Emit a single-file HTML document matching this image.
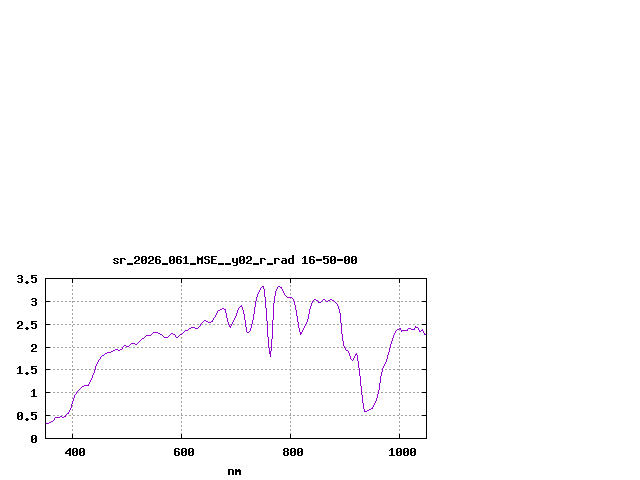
<!DOCTYPE html>
<html><head><meta charset="utf-8"><title>plot</title>
<style>
html,body{margin:0;padding:0;background:#fff;font-family:"Liberation Sans",sans-serif;}
svg{display:block}
</style></head>
<body>
<svg width="640" height="480" viewBox="0 0 640 480" shape-rendering="crispEdges">
<rect width="640" height="480" fill="#ffffff"/>
<path fill="#a0a0a0" d="M72 285h1v1h-1zM181 285h1v1h-1zM290 285h1v1h-1zM399 285h1v1h-1zM72 286h1v1h-1zM181 286h1v1h-1zM290 286h1v1h-1zM399 286h1v1h-1zM72 289h1v1h-1zM181 289h1v1h-1zM290 289h1v1h-1zM399 289h1v1h-1zM72 290h1v1h-1zM181 290h1v1h-1zM290 290h1v1h-1zM399 290h1v1h-1zM72 293h1v1h-1zM181 293h1v1h-1zM290 293h1v1h-1zM399 293h1v1h-1zM72 294h1v1h-1zM181 294h1v1h-1zM290 294h1v1h-1zM399 294h1v1h-1zM72 297h1v1h-1zM181 297h1v1h-1zM399 297h1v1h-1zM72 298h1v1h-1zM181 298h1v1h-1zM290 298h1v1h-1zM399 298h1v1h-1zM50 301h1v1h-1zM53 301h2v1h-2zM57 301h2v1h-2zM61 301h2v1h-2zM65 301h2v1h-2zM69 301h2v1h-2zM72 301h3v1h-3zM77 301h2v1h-2zM81 301h2v1h-2zM85 301h2v1h-2zM89 301h2v1h-2zM93 301h2v1h-2zM97 301h2v1h-2zM101 301h2v1h-2zM105 301h2v1h-2zM109 301h2v1h-2zM113 301h2v1h-2zM117 301h2v1h-2zM121 301h2v1h-2zM125 301h2v1h-2zM129 301h2v1h-2zM133 301h2v1h-2zM137 301h2v1h-2zM141 301h2v1h-2zM145 301h2v1h-2zM149 301h2v1h-2zM153 301h2v1h-2zM157 301h2v1h-2zM161 301h2v1h-2zM165 301h2v1h-2zM169 301h2v1h-2zM173 301h2v1h-2zM177 301h2v1h-2zM181 301h2v1h-2zM185 301h2v1h-2zM189 301h2v1h-2zM193 301h2v1h-2zM197 301h2v1h-2zM201 301h2v1h-2zM205 301h2v1h-2zM209 301h2v1h-2zM213 301h2v1h-2zM217 301h2v1h-2zM221 301h2v1h-2zM225 301h2v1h-2zM229 301h2v1h-2zM233 301h2v1h-2zM237 301h2v1h-2zM241 301h2v1h-2zM245 301h2v1h-2zM249 301h2v1h-2zM253 301h2v1h-2zM257 301h2v1h-2zM261 301h2v1h-2zM266 301h1v1h-1zM269 301h2v1h-2zM273 301h1v1h-1zM277 301h2v1h-2zM281 301h2v1h-2zM285 301h2v1h-2zM289 301h2v1h-2zM293 301h1v1h-1zM297 301h2v1h-2zM301 301h2v1h-2zM305 301h2v1h-2zM309 301h2v1h-2zM313 301h2v1h-2zM317 301h1v1h-1zM322 301h1v1h-1zM325 301h1v1h-1zM329 301h2v1h-2zM333 301h1v1h-1zM337 301h2v1h-2zM341 301h2v1h-2zM345 301h2v1h-2zM349 301h2v1h-2zM353 301h2v1h-2zM357 301h2v1h-2zM361 301h2v1h-2zM365 301h2v1h-2zM369 301h2v1h-2zM373 301h2v1h-2zM377 301h2v1h-2zM381 301h2v1h-2zM385 301h2v1h-2zM389 301h2v1h-2zM393 301h2v1h-2zM397 301h3v1h-3zM401 301h2v1h-2zM405 301h2v1h-2zM409 301h2v1h-2zM413 301h2v1h-2zM417 301h2v1h-2zM421 301h1v1h-1zM72 302h1v1h-1zM181 302h1v1h-1zM290 302h1v1h-1zM399 302h1v1h-1zM72 305h1v1h-1zM181 305h1v1h-1zM290 305h1v1h-1zM399 305h1v1h-1zM72 306h1v1h-1zM181 306h1v1h-1zM290 306h1v1h-1zM399 306h1v1h-1zM72 309h1v1h-1zM181 309h1v1h-1zM290 309h1v1h-1zM399 309h1v1h-1zM72 310h1v1h-1zM181 310h1v1h-1zM290 310h1v1h-1zM399 310h1v1h-1zM72 313h1v1h-1zM181 313h1v1h-1zM290 313h1v1h-1zM399 313h1v1h-1zM72 314h1v1h-1zM181 314h1v1h-1zM290 314h1v1h-1zM399 314h1v1h-1zM72 317h1v1h-1zM181 317h1v1h-1zM290 317h1v1h-1zM399 317h1v1h-1zM72 318h1v1h-1zM181 318h1v1h-1zM290 318h1v1h-1zM399 318h1v1h-1zM72 321h1v1h-1zM181 321h1v1h-1zM290 321h1v1h-1zM399 321h1v1h-1zM72 322h1v1h-1zM181 322h1v1h-1zM290 322h1v1h-1zM399 322h1v1h-1zM50 324h1v1h-1zM53 324h2v1h-2zM57 324h2v1h-2zM61 324h2v1h-2zM65 324h2v1h-2zM69 324h2v1h-2zM73 324h2v1h-2zM77 324h2v1h-2zM81 324h2v1h-2zM85 324h2v1h-2zM89 324h2v1h-2zM93 324h2v1h-2zM97 324h2v1h-2zM101 324h2v1h-2zM105 324h2v1h-2zM109 324h2v1h-2zM113 324h2v1h-2zM117 324h2v1h-2zM121 324h2v1h-2zM125 324h2v1h-2zM129 324h2v1h-2zM133 324h2v1h-2zM137 324h2v1h-2zM141 324h2v1h-2zM145 324h2v1h-2zM149 324h2v1h-2zM153 324h2v1h-2zM157 324h2v1h-2zM161 324h2v1h-2zM165 324h2v1h-2zM169 324h2v1h-2zM173 324h2v1h-2zM177 324h2v1h-2zM181 324h2v1h-2zM185 324h2v1h-2zM189 324h2v1h-2zM193 324h2v1h-2zM197 324h2v1h-2zM201 324h2v1h-2zM205 324h2v1h-2zM209 324h2v1h-2zM213 324h2v1h-2zM217 324h2v1h-2zM221 324h2v1h-2zM225 324h2v1h-2zM229 324h2v1h-2zM233 324h2v1h-2zM237 324h2v1h-2zM241 324h2v1h-2zM246 324h1v1h-1zM249 324h2v1h-2zM253 324h2v1h-2zM257 324h2v1h-2zM261 324h2v1h-2zM265 324h2v1h-2zM269 324h2v1h-2zM273 324h2v1h-2zM277 324h2v1h-2zM281 324h2v1h-2zM285 324h2v1h-2zM289 324h2v1h-2zM293 324h2v1h-2zM297 324h1v1h-1zM301 324h2v1h-2zM306 324h1v1h-1zM309 324h2v1h-2zM313 324h2v1h-2zM317 324h2v1h-2zM321 324h2v1h-2zM325 324h2v1h-2zM329 324h2v1h-2zM333 324h2v1h-2zM337 324h2v1h-2zM342 324h1v1h-1zM345 324h2v1h-2zM349 324h2v1h-2zM353 324h2v1h-2zM357 324h2v1h-2zM361 324h2v1h-2zM365 324h2v1h-2zM369 324h2v1h-2zM373 324h2v1h-2zM377 324h2v1h-2zM381 324h2v1h-2zM385 324h2v1h-2zM389 324h2v1h-2zM393 324h2v1h-2zM397 324h2v1h-2zM401 324h2v1h-2zM405 324h2v1h-2zM409 324h2v1h-2zM413 324h2v1h-2zM417 324h2v1h-2zM421 324h1v1h-1zM72 325h1v1h-1zM181 325h1v1h-1zM290 325h1v1h-1zM399 325h1v1h-1zM72 326h1v1h-1zM181 326h1v1h-1zM290 326h1v1h-1zM399 326h1v1h-1zM72 329h1v1h-1zM181 329h1v1h-1zM290 329h1v1h-1zM399 329h1v1h-1zM72 330h1v1h-1zM181 330h1v1h-1zM290 330h1v1h-1zM399 330h1v1h-1zM72 333h1v1h-1zM181 333h1v1h-1zM290 333h1v1h-1zM399 333h1v1h-1zM72 334h1v1h-1zM290 334h1v1h-1zM399 334h1v1h-1zM72 337h1v1h-1zM181 337h1v1h-1zM290 337h1v1h-1zM399 337h1v1h-1zM72 338h1v1h-1zM181 338h1v1h-1zM290 338h1v1h-1zM399 338h1v1h-1zM72 341h1v1h-1zM181 341h1v1h-1zM290 341h1v1h-1zM399 341h1v1h-1zM72 342h1v1h-1zM181 342h1v1h-1zM290 342h1v1h-1zM399 342h1v1h-1zM72 345h1v1h-1zM181 345h1v1h-1zM290 345h1v1h-1zM399 345h1v1h-1zM72 346h1v1h-1zM181 346h1v1h-1zM290 346h1v1h-1zM399 346h1v1h-1zM50 347h1v1h-1zM53 347h2v1h-2zM57 347h2v1h-2zM61 347h2v1h-2zM65 347h2v1h-2zM69 347h2v1h-2zM73 347h2v1h-2zM77 347h2v1h-2zM81 347h2v1h-2zM85 347h2v1h-2zM89 347h2v1h-2zM93 347h2v1h-2zM97 347h2v1h-2zM101 347h2v1h-2zM105 347h2v1h-2zM109 347h2v1h-2zM113 347h2v1h-2zM117 347h2v1h-2zM121 347h1v1h-1zM125 347h2v1h-2zM129 347h2v1h-2zM133 347h2v1h-2zM137 347h2v1h-2zM141 347h2v1h-2zM145 347h2v1h-2zM149 347h2v1h-2zM153 347h2v1h-2zM157 347h2v1h-2zM161 347h2v1h-2zM165 347h2v1h-2zM169 347h2v1h-2zM173 347h2v1h-2zM177 347h2v1h-2zM181 347h2v1h-2zM185 347h2v1h-2zM189 347h2v1h-2zM193 347h2v1h-2zM197 347h2v1h-2zM201 347h2v1h-2zM205 347h2v1h-2zM209 347h2v1h-2zM213 347h2v1h-2zM217 347h2v1h-2zM221 347h2v1h-2zM225 347h2v1h-2zM229 347h2v1h-2zM233 347h2v1h-2zM237 347h2v1h-2zM241 347h2v1h-2zM245 347h2v1h-2zM249 347h2v1h-2zM253 347h2v1h-2zM257 347h2v1h-2zM261 347h2v1h-2zM265 347h2v1h-2zM269 347h2v1h-2zM273 347h2v1h-2zM277 347h2v1h-2zM281 347h2v1h-2zM285 347h2v1h-2zM289 347h2v1h-2zM293 347h2v1h-2zM297 347h2v1h-2zM301 347h2v1h-2zM305 347h2v1h-2zM309 347h2v1h-2zM313 347h2v1h-2zM317 347h2v1h-2zM321 347h2v1h-2zM325 347h2v1h-2zM329 347h2v1h-2zM333 347h2v1h-2zM337 347h2v1h-2zM341 347h2v1h-2zM345 347h2v1h-2zM349 347h2v1h-2zM353 347h2v1h-2zM357 347h2v1h-2zM361 347h2v1h-2zM365 347h2v1h-2zM369 347h2v1h-2zM373 347h2v1h-2zM377 347h2v1h-2zM381 347h2v1h-2zM385 347h2v1h-2zM389 347h1v1h-1zM393 347h2v1h-2zM397 347h2v1h-2zM401 347h2v1h-2zM405 347h2v1h-2zM409 347h2v1h-2zM413 347h2v1h-2zM417 347h2v1h-2zM421 347h1v1h-1zM72 349h1v1h-1zM181 349h1v1h-1zM290 349h1v1h-1zM399 349h1v1h-1zM72 350h1v1h-1zM181 350h1v1h-1zM290 350h1v1h-1zM399 350h1v1h-1zM72 353h1v1h-1zM181 353h1v1h-1zM290 353h1v1h-1zM399 353h1v1h-1zM72 354h1v1h-1zM181 354h1v1h-1zM290 354h1v1h-1zM399 354h1v1h-1zM72 357h1v1h-1zM181 357h1v1h-1zM290 357h1v1h-1zM399 357h1v1h-1zM72 358h1v1h-1zM181 358h1v1h-1zM290 358h1v1h-1zM399 358h1v1h-1zM72 361h1v1h-1zM181 361h1v1h-1zM290 361h1v1h-1zM399 361h1v1h-1zM72 362h1v1h-1zM181 362h1v1h-1zM290 362h1v1h-1zM399 362h1v1h-1zM72 365h1v1h-1zM181 365h1v1h-1zM290 365h1v1h-1zM399 365h1v1h-1zM72 366h1v1h-1zM181 366h1v1h-1zM290 366h1v1h-1zM399 366h1v1h-1zM50 369h1v1h-1zM53 369h2v1h-2zM57 369h2v1h-2zM61 369h2v1h-2zM65 369h2v1h-2zM69 369h2v1h-2zM72 369h3v1h-3zM77 369h2v1h-2zM81 369h2v1h-2zM85 369h2v1h-2zM89 369h2v1h-2zM93 369h2v1h-2zM97 369h2v1h-2zM101 369h2v1h-2zM105 369h2v1h-2zM109 369h2v1h-2zM113 369h2v1h-2zM117 369h2v1h-2zM121 369h2v1h-2zM125 369h2v1h-2zM129 369h2v1h-2zM133 369h2v1h-2zM137 369h2v1h-2zM141 369h2v1h-2zM145 369h2v1h-2zM149 369h2v1h-2zM153 369h2v1h-2zM157 369h2v1h-2zM161 369h2v1h-2zM165 369h2v1h-2zM169 369h2v1h-2zM173 369h2v1h-2zM177 369h2v1h-2zM181 369h2v1h-2zM185 369h2v1h-2zM189 369h2v1h-2zM193 369h2v1h-2zM197 369h2v1h-2zM201 369h2v1h-2zM205 369h2v1h-2zM209 369h2v1h-2zM213 369h2v1h-2zM217 369h2v1h-2zM221 369h2v1h-2zM225 369h2v1h-2zM229 369h2v1h-2zM233 369h2v1h-2zM237 369h2v1h-2zM241 369h2v1h-2zM245 369h2v1h-2zM249 369h2v1h-2zM253 369h2v1h-2zM257 369h2v1h-2zM261 369h2v1h-2zM265 369h2v1h-2zM269 369h2v1h-2zM273 369h2v1h-2zM277 369h2v1h-2zM281 369h2v1h-2zM285 369h2v1h-2zM289 369h2v1h-2zM293 369h2v1h-2zM297 369h2v1h-2zM301 369h2v1h-2zM305 369h2v1h-2zM309 369h2v1h-2zM313 369h2v1h-2zM317 369h2v1h-2zM321 369h2v1h-2zM325 369h2v1h-2zM329 369h2v1h-2zM333 369h2v1h-2zM337 369h2v1h-2zM341 369h2v1h-2zM345 369h2v1h-2zM349 369h2v1h-2zM353 369h2v1h-2zM357 369h2v1h-2zM361 369h2v1h-2zM365 369h2v1h-2zM369 369h2v1h-2zM373 369h2v1h-2zM377 369h2v1h-2zM381 369h1v1h-1zM385 369h2v1h-2zM389 369h2v1h-2zM393 369h2v1h-2zM397 369h3v1h-3zM401 369h2v1h-2zM405 369h2v1h-2zM409 369h2v1h-2zM413 369h2v1h-2zM417 369h2v1h-2zM421 369h1v1h-1zM72 370h1v1h-1zM181 370h1v1h-1zM290 370h1v1h-1zM399 370h1v1h-1zM72 373h1v1h-1zM181 373h1v1h-1zM290 373h1v1h-1zM399 373h1v1h-1zM72 374h1v1h-1zM181 374h1v1h-1zM290 374h1v1h-1zM399 374h1v1h-1zM72 377h1v1h-1zM181 377h1v1h-1zM290 377h1v1h-1zM399 377h1v1h-1zM72 378h1v1h-1zM181 378h1v1h-1zM290 378h1v1h-1zM399 378h1v1h-1zM72 381h1v1h-1zM181 381h1v1h-1zM290 381h1v1h-1zM399 381h1v1h-1zM72 382h1v1h-1zM181 382h1v1h-1zM290 382h1v1h-1zM399 382h1v1h-1zM72 385h1v1h-1zM181 385h1v1h-1zM290 385h1v1h-1zM399 385h1v1h-1zM72 386h1v1h-1zM181 386h1v1h-1zM290 386h1v1h-1zM399 386h1v1h-1zM72 389h1v1h-1zM181 389h1v1h-1zM290 389h1v1h-1zM399 389h1v1h-1zM72 390h1v1h-1zM181 390h1v1h-1zM290 390h1v1h-1zM399 390h1v1h-1zM50 392h1v1h-1zM53 392h2v1h-2zM57 392h2v1h-2zM61 392h2v1h-2zM65 392h2v1h-2zM69 392h2v1h-2zM73 392h2v1h-2zM77 392h2v1h-2zM81 392h2v1h-2zM85 392h2v1h-2zM89 392h2v1h-2zM93 392h2v1h-2zM97 392h2v1h-2zM101 392h2v1h-2zM105 392h2v1h-2zM109 392h2v1h-2zM113 392h2v1h-2zM117 392h2v1h-2zM121 392h2v1h-2zM125 392h2v1h-2zM129 392h2v1h-2zM133 392h2v1h-2zM137 392h2v1h-2zM141 392h2v1h-2zM145 392h2v1h-2zM149 392h2v1h-2zM153 392h2v1h-2zM157 392h2v1h-2zM161 392h2v1h-2zM165 392h2v1h-2zM169 392h2v1h-2zM173 392h2v1h-2zM177 392h2v1h-2zM181 392h2v1h-2zM185 392h2v1h-2zM189 392h2v1h-2zM193 392h2v1h-2zM197 392h2v1h-2zM201 392h2v1h-2zM205 392h2v1h-2zM209 392h2v1h-2zM213 392h2v1h-2zM217 392h2v1h-2zM221 392h2v1h-2zM225 392h2v1h-2zM229 392h2v1h-2zM233 392h2v1h-2zM237 392h2v1h-2zM241 392h2v1h-2zM245 392h2v1h-2zM249 392h2v1h-2zM253 392h2v1h-2zM257 392h2v1h-2zM261 392h2v1h-2zM265 392h2v1h-2zM269 392h2v1h-2zM273 392h2v1h-2zM277 392h2v1h-2zM281 392h2v1h-2zM285 392h2v1h-2zM289 392h2v1h-2zM293 392h2v1h-2zM297 392h2v1h-2zM301 392h2v1h-2zM305 392h2v1h-2zM309 392h2v1h-2zM313 392h2v1h-2zM317 392h2v1h-2zM321 392h2v1h-2zM325 392h2v1h-2zM329 392h2v1h-2zM333 392h2v1h-2zM337 392h2v1h-2zM341 392h2v1h-2zM345 392h2v1h-2zM349 392h2v1h-2zM353 392h2v1h-2zM357 392h2v1h-2zM362 392h1v1h-1zM365 392h2v1h-2zM369 392h2v1h-2zM373 392h2v1h-2zM377 392h1v1h-1zM381 392h2v1h-2zM385 392h2v1h-2zM389 392h2v1h-2zM393 392h2v1h-2zM397 392h2v1h-2zM401 392h2v1h-2zM405 392h2v1h-2zM409 392h2v1h-2zM413 392h2v1h-2zM417 392h2v1h-2zM421 392h1v1h-1zM72 393h1v1h-1zM181 393h1v1h-1zM290 393h1v1h-1zM399 393h1v1h-1zM72 394h1v1h-1zM181 394h1v1h-1zM290 394h1v1h-1zM399 394h1v1h-1zM72 397h1v1h-1zM181 397h1v1h-1zM290 397h1v1h-1zM399 397h1v1h-1zM72 398h1v1h-1zM181 398h1v1h-1zM290 398h1v1h-1zM399 398h1v1h-1zM181 401h1v1h-1zM290 401h1v1h-1zM399 401h1v1h-1zM181 402h1v1h-1zM290 402h1v1h-1zM399 402h1v1h-1zM72 405h1v1h-1zM181 405h1v1h-1zM290 405h1v1h-1zM399 405h1v1h-1zM72 406h1v1h-1zM181 406h1v1h-1zM290 406h1v1h-1zM399 406h1v1h-1zM72 409h1v1h-1zM181 409h1v1h-1zM290 409h1v1h-1zM399 409h1v1h-1zM72 410h1v1h-1zM181 410h1v1h-1zM290 410h1v1h-1zM399 410h1v1h-1zM72 413h1v1h-1zM181 413h1v1h-1zM290 413h1v1h-1zM399 413h1v1h-1zM72 414h1v1h-1zM181 414h1v1h-1zM290 414h1v1h-1zM399 414h1v1h-1zM50 415h1v1h-1zM53 415h2v1h-2zM57 415h2v1h-2zM61 415h2v1h-2zM66 415h1v1h-1zM69 415h2v1h-2zM73 415h2v1h-2zM77 415h2v1h-2zM81 415h2v1h-2zM85 415h2v1h-2zM89 415h2v1h-2zM93 415h2v1h-2zM97 415h2v1h-2zM101 415h2v1h-2zM105 415h2v1h-2zM109 415h2v1h-2zM113 415h2v1h-2zM117 415h2v1h-2zM121 415h2v1h-2zM125 415h2v1h-2zM129 415h2v1h-2zM133 415h2v1h-2zM137 415h2v1h-2zM141 415h2v1h-2zM145 415h2v1h-2zM149 415h2v1h-2zM153 415h2v1h-2zM157 415h2v1h-2zM161 415h2v1h-2zM165 415h2v1h-2zM169 415h2v1h-2zM173 415h2v1h-2zM177 415h2v1h-2zM181 415h2v1h-2zM185 415h2v1h-2zM189 415h2v1h-2zM193 415h2v1h-2zM197 415h2v1h-2zM201 415h2v1h-2zM205 415h2v1h-2zM209 415h2v1h-2zM213 415h2v1h-2zM217 415h2v1h-2zM221 415h2v1h-2zM225 415h2v1h-2zM229 415h2v1h-2zM233 415h2v1h-2zM237 415h2v1h-2zM241 415h2v1h-2zM245 415h2v1h-2zM249 415h2v1h-2zM253 415h2v1h-2zM257 415h2v1h-2zM261 415h2v1h-2zM265 415h2v1h-2zM269 415h2v1h-2zM273 415h2v1h-2zM277 415h2v1h-2zM281 415h2v1h-2zM285 415h2v1h-2zM289 415h2v1h-2zM293 415h2v1h-2zM297 415h2v1h-2zM301 415h2v1h-2zM305 415h2v1h-2zM309 415h2v1h-2zM313 415h2v1h-2zM317 415h2v1h-2zM321 415h2v1h-2zM325 415h2v1h-2zM329 415h2v1h-2zM333 415h2v1h-2zM337 415h2v1h-2zM341 415h2v1h-2zM345 415h2v1h-2zM349 415h2v1h-2zM353 415h2v1h-2zM357 415h2v1h-2zM361 415h2v1h-2zM365 415h2v1h-2zM369 415h2v1h-2zM373 415h2v1h-2zM377 415h2v1h-2zM381 415h2v1h-2zM385 415h2v1h-2zM389 415h2v1h-2zM393 415h2v1h-2zM397 415h2v1h-2zM401 415h2v1h-2zM405 415h2v1h-2zM409 415h2v1h-2zM413 415h2v1h-2zM417 415h2v1h-2zM421 415h1v1h-1zM72 417h1v1h-1zM181 417h1v1h-1zM290 417h1v1h-1zM399 417h1v1h-1zM72 418h1v1h-1zM181 418h1v1h-1zM290 418h1v1h-1zM399 418h1v1h-1zM72 421h1v1h-1zM181 421h1v1h-1zM290 421h1v1h-1zM399 421h1v1h-1zM72 422h1v1h-1zM181 422h1v1h-1zM290 422h1v1h-1zM399 422h1v1h-1zM72 425h1v1h-1zM181 425h1v1h-1zM290 425h1v1h-1zM399 425h1v1h-1zM72 426h1v1h-1zM181 426h1v1h-1zM290 426h1v1h-1zM399 426h1v1h-1zM72 429h1v1h-1zM181 429h1v1h-1zM290 429h1v1h-1zM399 429h1v1h-1zM72 430h1v1h-1zM181 430h1v1h-1zM290 430h1v1h-1zM399 430h1v1h-1zM72 433h1v1h-1zM181 433h1v1h-1zM290 433h1v1h-1zM399 433h1v1h-1z"/>
<path fill="#9400d3" d="M262 286h2v1h-2zM278 286h2v1h-2zM261 287h1v1h-1zM263 287h1v1h-1zM277 287h1v1h-1zM280 287h2v1h-2zM260 288h1v1h-1zM263 288h1v1h-1zM277 288h1v1h-1zM281 288h1v1h-1zM260 289h1v1h-1zM264 289h1v1h-1zM276 289h1v1h-1zM282 289h1v1h-1zM259 290h1v1h-1zM264 290h1v1h-1zM276 290h1v1h-1zM282 290h1v1h-1zM259 291h1v1h-1zM264 291h1v1h-1zM275 291h1v1h-1zM283 291h1v1h-1zM258 292h1v1h-1zM264 292h1v1h-1zM275 292h1v1h-1zM283 292h1v1h-1zM258 293h1v1h-1zM264 293h1v1h-1zM275 293h1v1h-1zM284 293h1v1h-1zM257 294h1v1h-1zM264 294h1v1h-1zM275 294h1v1h-1zM284 294h1v1h-1zM257 295h1v1h-1zM264 295h1v1h-1zM275 295h1v1h-1zM285 295h1v1h-1zM257 296h1v1h-1zM264 296h1v1h-1zM274 296h1v1h-1zM286 296h1v1h-1zM256 297h1v1h-1zM265 297h1v1h-1zM274 297h1v1h-1zM287 297h5v1h-5zM256 298h1v1h-1zM265 298h1v1h-1zM274 298h1v1h-1zM292 298h1v1h-1zM256 299h1v1h-1zM265 299h1v1h-1zM274 299h1v1h-1zM293 299h1v1h-1zM314 299h2v1h-2zM323 299h2v1h-2zM330 299h2v1h-2zM256 300h1v1h-1zM265 300h1v1h-1zM274 300h1v1h-1zM293 300h1v1h-1zM313 300h1v1h-1zM316 300h2v1h-2zM322 300h1v1h-1zM325 300h1v1h-1zM328 300h2v1h-2zM332 300h2v1h-2zM255 301h1v1h-1zM265 301h1v1h-1zM274 301h1v1h-1zM294 301h1v1h-1zM312 301h1v1h-1zM318 301h1v1h-1zM321 301h1v1h-1zM326 301h2v1h-2zM334 301h1v1h-1zM255 302h1v1h-1zM265 302h1v1h-1zM274 302h1v1h-1zM294 302h1v1h-1zM312 302h1v1h-1zM318 302h3v1h-3zM335 302h1v1h-1zM255 303h1v1h-1zM265 303h1v1h-1zM273 303h1v1h-1zM294 303h1v1h-1zM311 303h1v1h-1zM336 303h1v1h-1zM255 304h1v1h-1zM265 304h1v1h-1zM273 304h1v1h-1zM294 304h1v1h-1zM311 304h1v1h-1zM337 304h1v1h-1zM241 305h1v1h-1zM255 305h1v1h-1zM265 305h1v1h-1zM273 305h1v1h-1zM295 305h1v1h-1zM311 305h1v1h-1zM337 305h1v1h-1zM240 306h2v1h-2zM255 306h1v1h-1zM265 306h1v1h-1zM273 306h1v1h-1zM295 306h1v1h-1zM310 306h1v1h-1zM338 306h1v1h-1zM239 307h1v1h-1zM242 307h1v1h-1zM254 307h1v1h-1zM265 307h1v1h-1zM273 307h1v1h-1zM295 307h1v1h-1zM310 307h1v1h-1zM338 307h1v1h-1zM222 308h2v1h-2zM238 308h1v1h-1zM242 308h1v1h-1zM254 308h1v1h-1zM266 308h1v1h-1zM273 308h1v1h-1zM295 308h1v1h-1zM310 308h1v1h-1zM338 308h1v1h-1zM220 309h2v1h-2zM224 309h2v1h-2zM238 309h1v1h-1zM242 309h1v1h-1zM254 309h1v1h-1zM266 309h1v1h-1zM273 309h1v1h-1zM295 309h1v1h-1zM309 309h1v1h-1zM339 309h1v1h-1zM218 310h2v1h-2zM225 310h1v1h-1zM237 310h1v1h-1zM243 310h1v1h-1zM254 310h1v1h-1zM266 310h1v1h-1zM273 310h1v1h-1zM296 310h1v1h-1zM309 310h1v1h-1zM339 310h1v1h-1zM217 311h1v1h-1zM225 311h1v1h-1zM237 311h1v1h-1zM243 311h1v1h-1zM254 311h1v1h-1zM266 311h1v1h-1zM273 311h1v1h-1zM296 311h1v1h-1zM309 311h1v1h-1zM339 311h1v1h-1zM217 312h1v1h-1zM225 312h1v1h-1zM237 312h1v1h-1zM243 312h1v1h-1zM254 312h1v1h-1zM266 312h1v1h-1zM273 312h1v1h-1zM296 312h1v1h-1zM309 312h1v1h-1zM339 312h1v1h-1zM216 313h1v1h-1zM226 313h1v1h-1zM236 313h1v1h-1zM243 313h1v1h-1zM254 313h1v1h-1zM266 313h1v1h-1zM273 313h1v1h-1zM296 313h1v1h-1zM309 313h1v1h-1zM340 313h1v1h-1zM216 314h1v1h-1zM226 314h1v1h-1zM236 314h1v1h-1zM244 314h1v1h-1zM253 314h1v1h-1zM266 314h1v1h-1zM273 314h1v1h-1zM296 314h1v1h-1zM308 314h1v1h-1zM340 314h1v1h-1zM215 315h1v1h-1zM226 315h1v1h-1zM236 315h1v1h-1zM244 315h1v1h-1zM253 315h1v1h-1zM266 315h1v1h-1zM273 315h1v1h-1zM296 315h1v1h-1zM308 315h1v1h-1zM340 315h1v1h-1zM215 316h1v1h-1zM226 316h1v1h-1zM235 316h1v1h-1zM244 316h1v1h-1zM253 316h1v1h-1zM266 316h1v1h-1zM273 316h1v1h-1zM297 316h1v1h-1zM308 316h1v1h-1zM340 316h1v1h-1zM214 317h1v1h-1zM226 317h1v1h-1zM235 317h1v1h-1zM244 317h1v1h-1zM253 317h1v1h-1zM266 317h1v1h-1zM273 317h1v1h-1zM297 317h1v1h-1zM308 317h1v1h-1zM340 317h1v1h-1zM213 318h1v1h-1zM227 318h1v1h-1zM234 318h1v1h-1zM244 318h1v1h-1zM253 318h1v1h-1zM266 318h1v1h-1zM273 318h1v1h-1zM297 318h1v1h-1zM308 318h1v1h-1zM340 318h1v1h-1zM213 319h1v1h-1zM227 319h1v1h-1zM234 319h1v1h-1zM244 319h1v1h-1zM253 319h1v1h-1zM266 319h1v1h-1zM273 319h1v1h-1zM297 319h1v1h-1zM307 319h1v1h-1zM340 319h1v1h-1zM204 320h2v1h-2zM212 320h1v1h-1zM227 320h1v1h-1zM233 320h1v1h-1zM245 320h1v1h-1zM252 320h1v1h-1zM266 320h1v1h-1zM272 320h1v1h-1zM297 320h1v1h-1zM307 320h1v1h-1zM340 320h1v1h-1zM203 321h1v1h-1zM206 321h2v1h-2zM211 321h2v1h-2zM227 321h1v1h-1zM233 321h1v1h-1zM245 321h1v1h-1zM252 321h1v1h-1zM267 321h1v1h-1zM272 321h1v1h-1zM297 321h1v1h-1zM307 321h1v1h-1zM340 321h1v1h-1zM202 322h1v1h-1zM208 322h3v1h-3zM228 322h1v1h-1zM232 322h1v1h-1zM245 322h1v1h-1zM252 322h1v1h-1zM267 322h1v1h-1zM272 322h1v1h-1zM298 322h1v1h-1zM306 322h1v1h-1zM340 322h1v1h-1zM201 323h1v1h-1zM228 323h1v1h-1zM232 323h1v1h-1zM245 323h1v1h-1zM252 323h1v1h-1zM267 323h1v1h-1zM272 323h1v1h-1zM298 323h1v1h-1zM306 323h1v1h-1zM341 323h1v1h-1zM200 324h1v1h-1zM228 324h1v1h-1zM231 324h1v1h-1zM245 324h1v1h-1zM251 324h1v1h-1zM267 324h1v1h-1zM272 324h1v1h-1zM298 324h1v1h-1zM305 324h1v1h-1zM341 324h1v1h-1zM200 325h1v1h-1zM229 325h1v1h-1zM231 325h1v1h-1zM245 325h1v1h-1zM251 325h1v1h-1zM267 325h1v1h-1zM272 325h1v1h-1zM298 325h1v1h-1zM305 325h1v1h-1zM341 325h1v1h-1zM199 326h1v1h-1zM229 326h2v1h-2zM245 326h1v1h-1zM251 326h1v1h-1zM267 326h1v1h-1zM272 326h1v1h-1zM298 326h1v1h-1zM304 326h1v1h-1zM341 326h1v1h-1zM415 326h1v1h-1zM191 327h4v1h-4zM198 327h1v1h-1zM230 327h1v1h-1zM246 327h1v1h-1zM251 327h1v1h-1zM267 327h1v1h-1zM272 327h1v1h-1zM298 327h1v1h-1zM304 327h1v1h-1zM341 327h1v1h-1zM415 327h3v1h-3zM189 328h2v1h-2zM195 328h3v1h-3zM246 328h1v1h-1zM250 328h1v1h-1zM267 328h1v1h-1zM272 328h1v1h-1zM299 328h1v1h-1zM303 328h1v1h-1zM341 328h1v1h-1zM399 328h2v1h-2zM408 328h3v1h-3zM414 328h1v1h-1zM418 328h1v1h-1zM188 329h1v1h-1zM246 329h1v1h-1zM250 329h1v1h-1zM267 329h1v1h-1zM272 329h1v1h-1zM299 329h1v1h-1zM303 329h1v1h-1zM341 329h1v1h-1zM397 329h2v1h-2zM400 329h1v1h-1zM407 329h1v1h-1zM411 329h4v1h-4zM418 329h1v1h-1zM422 329h1v1h-1zM185 330h3v1h-3zM246 330h1v1h-1zM250 330h1v1h-1zM267 330h1v1h-1zM272 330h1v1h-1zM299 330h1v1h-1zM302 330h1v1h-1zM341 330h1v1h-1zM396 330h1v1h-1zM401 330h7v1h-7zM419 330h1v1h-1zM421 330h2v1h-2zM184 331h1v1h-1zM246 331h1v1h-1zM249 331h1v1h-1zM267 331h1v1h-1zM272 331h1v1h-1zM299 331h1v1h-1zM302 331h1v1h-1zM341 331h1v1h-1zM395 331h1v1h-1zM401 331h1v1h-1zM419 331h2v1h-2zM423 331h1v1h-1zM153 332h5v1h-5zM183 332h1v1h-1zM247 332h2v1h-2zM267 332h1v1h-1zM272 332h1v1h-1zM300 332h2v1h-2zM341 332h1v1h-1zM395 332h1v1h-1zM423 332h1v1h-1zM152 333h1v1h-1zM158 333h2v1h-2zM171 333h2v1h-2zM182 333h1v1h-1zM267 333h1v1h-1zM272 333h1v1h-1zM300 333h2v1h-2zM341 333h1v1h-1zM394 333h1v1h-1zM424 333h1v1h-1zM151 334h1v1h-1zM160 334h2v1h-2zM170 334h1v1h-1zM173 334h2v1h-2zM180 334h2v1h-2zM267 334h1v1h-1zM272 334h1v1h-1zM300 334h1v1h-1zM342 334h1v1h-1zM394 334h1v1h-1zM424 334h2v1h-2zM146 335h5v1h-5zM162 335h1v1h-1zM169 335h1v1h-1zM175 335h1v1h-1zM179 335h1v1h-1zM267 335h1v1h-1zM272 335h1v1h-1zM342 335h1v1h-1zM393 335h1v1h-1zM145 336h1v1h-1zM163 336h1v1h-1zM168 336h1v1h-1zM175 336h1v1h-1zM178 336h1v1h-1zM267 336h1v1h-1zM272 336h1v1h-1zM342 336h1v1h-1zM393 336h1v1h-1zM144 337h1v1h-1zM164 337h4v1h-4zM176 337h2v1h-2zM268 337h1v1h-1zM272 337h1v1h-1zM342 337h1v1h-1zM393 337h1v1h-1zM142 338h2v1h-2zM268 338h1v1h-1zM272 338h1v1h-1zM342 338h1v1h-1zM392 338h1v1h-1zM141 339h1v1h-1zM268 339h1v1h-1zM271 339h1v1h-1zM342 339h1v1h-1zM392 339h1v1h-1zM140 340h1v1h-1zM268 340h1v1h-1zM271 340h1v1h-1zM342 340h1v1h-1zM392 340h1v1h-1zM139 341h1v1h-1zM268 341h1v1h-1zM271 341h1v1h-1zM343 341h1v1h-1zM391 341h1v1h-1zM138 342h1v1h-1zM268 342h1v1h-1zM271 342h1v1h-1zM343 342h1v1h-1zM391 342h1v1h-1zM131 343h4v1h-4zM137 343h1v1h-1zM268 343h1v1h-1zM271 343h1v1h-1zM343 343h1v1h-1zM391 343h1v1h-1zM130 344h1v1h-1zM135 344h2v1h-2zM268 344h1v1h-1zM271 344h1v1h-1zM343 344h1v1h-1zM390 344h1v1h-1zM124 345h2v1h-2zM129 345h1v1h-1zM268 345h1v1h-1zM271 345h1v1h-1zM343 345h1v1h-1zM390 345h1v1h-1zM123 346h1v1h-1zM126 346h3v1h-3zM268 346h1v1h-1zM271 346h1v1h-1zM344 346h1v1h-1zM390 346h1v1h-1zM122 347h1v1h-1zM268 347h1v1h-1zM271 347h1v1h-1zM344 347h1v1h-1zM390 347h1v1h-1zM122 348h1v1h-1zM269 348h1v1h-1zM271 348h1v1h-1zM345 348h1v1h-1zM389 348h1v1h-1zM115 349h3v1h-3zM120 349h2v1h-2zM269 349h1v1h-1zM271 349h1v1h-1zM345 349h1v1h-1zM389 349h1v1h-1zM113 350h2v1h-2zM118 350h2v1h-2zM269 350h1v1h-1zM271 350h1v1h-1zM346 350h2v1h-2zM389 350h1v1h-1zM111 351h2v1h-2zM269 351h2v1h-2zM348 351h1v1h-1zM389 351h1v1h-1zM107 352h4v1h-4zM269 352h2v1h-2zM348 352h1v1h-1zM388 352h1v1h-1zM105 353h2v1h-2zM269 353h2v1h-2zM349 353h1v1h-1zM356 353h1v1h-1zM388 353h1v1h-1zM104 354h1v1h-1zM270 354h1v1h-1zM349 354h1v1h-1zM355 354h2v1h-2zM388 354h1v1h-1zM102 355h2v1h-2zM270 355h1v1h-1zM349 355h1v1h-1zM355 355h1v1h-1zM357 355h1v1h-1zM387 355h1v1h-1zM101 356h1v1h-1zM270 356h1v1h-1zM350 356h1v1h-1zM354 356h1v1h-1zM357 356h1v1h-1zM387 356h1v1h-1zM100 357h1v1h-1zM350 357h1v1h-1zM354 357h1v1h-1zM357 357h1v1h-1zM387 357h1v1h-1zM100 358h1v1h-1zM350 358h1v1h-1zM353 358h1v1h-1zM357 358h1v1h-1zM387 358h1v1h-1zM99 359h1v1h-1zM351 359h1v1h-1zM353 359h1v1h-1zM357 359h1v1h-1zM386 359h1v1h-1zM98 360h1v1h-1zM352 360h1v1h-1zM357 360h1v1h-1zM386 360h1v1h-1zM98 361h1v1h-1zM358 361h1v1h-1zM386 361h1v1h-1zM97 362h1v1h-1zM358 362h1v1h-1zM385 362h1v1h-1zM97 363h1v1h-1zM358 363h1v1h-1zM385 363h1v1h-1zM96 364h1v1h-1zM358 364h1v1h-1zM384 364h1v1h-1zM96 365h1v1h-1zM358 365h1v1h-1zM384 365h1v1h-1zM95 366h1v1h-1zM358 366h1v1h-1zM383 366h1v1h-1zM95 367h1v1h-1zM358 367h1v1h-1zM383 367h1v1h-1zM95 368h1v1h-1zM359 368h1v1h-1zM382 368h1v1h-1zM95 369h1v1h-1zM359 369h1v1h-1zM382 369h1v1h-1zM94 370h1v1h-1zM359 370h1v1h-1zM382 370h1v1h-1zM94 371h1v1h-1zM359 371h1v1h-1zM382 371h1v1h-1zM94 372h1v1h-1zM359 372h1v1h-1zM381 372h1v1h-1zM93 373h1v1h-1zM359 373h1v1h-1zM381 373h1v1h-1zM93 374h1v1h-1zM359 374h1v1h-1zM381 374h1v1h-1zM92 375h1v1h-1zM359 375h1v1h-1zM381 375h1v1h-1zM92 376h1v1h-1zM360 376h1v1h-1zM380 376h1v1h-1zM92 377h1v1h-1zM360 377h1v1h-1zM380 377h1v1h-1zM91 378h1v1h-1zM360 378h1v1h-1zM380 378h1v1h-1zM91 379h1v1h-1zM360 379h1v1h-1zM380 379h1v1h-1zM90 380h1v1h-1zM360 380h1v1h-1zM380 380h1v1h-1zM90 381h1v1h-1zM360 381h1v1h-1zM380 381h1v1h-1zM89 382h1v1h-1zM360 382h1v1h-1zM380 382h1v1h-1zM89 383h1v1h-1zM360 383h1v1h-1zM379 383h1v1h-1zM88 384h1v1h-1zM360 384h1v1h-1zM379 384h1v1h-1zM84 385h5v1h-5zM360 385h1v1h-1zM379 385h1v1h-1zM82 386h2v1h-2zM361 386h1v1h-1zM379 386h1v1h-1zM81 387h1v1h-1zM361 387h1v1h-1zM379 387h1v1h-1zM80 388h1v1h-1zM361 388h1v1h-1zM379 388h1v1h-1zM79 389h1v1h-1zM361 389h1v1h-1zM379 389h1v1h-1zM78 390h1v1h-1zM361 390h1v1h-1zM378 390h1v1h-1zM77 391h1v1h-1zM361 391h1v1h-1zM378 391h1v1h-1zM76 392h1v1h-1zM361 392h1v1h-1zM378 392h1v1h-1zM76 393h1v1h-1zM361 393h1v1h-1zM378 393h1v1h-1zM75 394h1v1h-1zM361 394h1v1h-1zM377 394h1v1h-1zM74 395h1v1h-1zM362 395h1v1h-1zM377 395h1v1h-1zM74 396h1v1h-1zM362 396h1v1h-1zM377 396h1v1h-1zM74 397h1v1h-1zM362 397h1v1h-1zM377 397h1v1h-1zM73 398h1v1h-1zM362 398h1v1h-1zM376 398h1v1h-1zM73 399h1v1h-1zM362 399h1v1h-1zM376 399h1v1h-1zM73 400h1v1h-1zM362 400h1v1h-1zM376 400h1v1h-1zM72 401h1v1h-1zM362 401h1v1h-1zM375 401h1v1h-1zM72 402h1v1h-1zM362 402h1v1h-1zM375 402h1v1h-1zM72 403h1v1h-1zM363 403h1v1h-1zM374 403h1v1h-1zM71 404h1v1h-1zM363 404h1v1h-1zM374 404h1v1h-1zM71 405h1v1h-1zM363 405h1v1h-1zM373 405h1v1h-1zM71 406h1v1h-1zM363 406h1v1h-1zM373 406h1v1h-1zM71 407h1v1h-1zM363 407h1v1h-1zM372 407h1v1h-1zM70 408h1v1h-1zM363 408h1v1h-1zM371 408h2v1h-2zM70 409h1v1h-1zM364 409h1v1h-1zM369 409h2v1h-2zM69 410h1v1h-1zM364 410h1v1h-1zM367 410h2v1h-2zM69 411h1v1h-1zM364 411h3v1h-3zM68 412h1v1h-1zM67 413h2v1h-2zM66 414h1v1h-1zM65 415h1v1h-1zM60 416h2v1h-2zM64 416h2v1h-2zM55 417h5v1h-5zM62 417h2v1h-2zM54 418h1v1h-1zM54 419h1v1h-1zM53 420h1v1h-1zM51 421h2v1h-2zM49 422h2v1h-2zM46 423h3v1h-3z"/>
<path fill="#000000" d="M292 255h2v1h-2zM135 256h4v1h-4zM142 256h4v1h-4zM149 256h4v1h-4zM156 256h4v1h-4zM170 256h4v1h-4zM177 256h4v1h-4zM185 256h2v1h-2zM197 256h1v1h-1zM202 256h1v1h-1zM205 256h4v1h-4zM211 256h6v1h-6zM240 256h4v1h-4zM247 256h4v1h-4zM292 256h2v1h-2zM304 256h2v1h-2zM310 256h4v1h-4zM323 256h6v1h-6zM331 256h4v1h-4zM345 256h4v1h-4zM352 256h4v1h-4zM134 257h2v1h-2zM138 257h2v1h-2zM141 257h2v1h-2zM145 257h2v1h-2zM148 257h2v1h-2zM152 257h2v1h-2zM155 257h2v1h-2zM159 257h2v1h-2zM169 257h2v1h-2zM173 257h2v1h-2zM176 257h2v1h-2zM180 257h2v1h-2zM184 257h3v1h-3zM197 257h2v1h-2zM201 257h2v1h-2zM204 257h2v1h-2zM208 257h2v1h-2zM211 257h2v1h-2zM239 257h2v1h-2zM243 257h2v1h-2zM246 257h2v1h-2zM250 257h2v1h-2zM292 257h2v1h-2zM303 257h3v1h-3zM309 257h2v1h-2zM313 257h2v1h-2zM323 257h2v1h-2zM330 257h2v1h-2zM334 257h2v1h-2zM344 257h2v1h-2zM348 257h2v1h-2zM351 257h2v1h-2zM355 257h2v1h-2zM114 258h4v1h-4zM120 258h5v1h-5zM134 258h2v1h-2zM138 258h2v1h-2zM141 258h2v1h-2zM145 258h2v1h-2zM148 258h2v1h-2zM152 258h2v1h-2zM155 258h2v1h-2zM169 258h2v1h-2zM173 258h2v1h-2zM176 258h2v1h-2zM183 258h1v1h-1zM185 258h2v1h-2zM197 258h6v1h-6zM204 258h2v1h-2zM211 258h2v1h-2zM232 258h2v1h-2zM236 258h2v1h-2zM239 258h2v1h-2zM243 258h2v1h-2zM246 258h2v1h-2zM250 258h2v1h-2zM260 258h5v1h-5zM274 258h5v1h-5zM282 258h4v1h-4zM289 258h5v1h-5zM302 258h1v1h-1zM304 258h2v1h-2zM309 258h2v1h-2zM323 258h5v1h-5zM330 258h2v1h-2zM334 258h2v1h-2zM344 258h2v1h-2zM348 258h2v1h-2zM351 258h2v1h-2zM355 258h2v1h-2zM113 259h2v1h-2zM117 259h2v1h-2zM120 259h2v1h-2zM124 259h2v1h-2zM138 259h2v1h-2zM141 259h2v1h-2zM144 259h3v1h-3zM152 259h2v1h-2zM155 259h5v1h-5zM169 259h2v1h-2zM172 259h3v1h-3zM176 259h5v1h-5zM185 259h2v1h-2zM197 259h6v1h-6zM205 259h4v1h-4zM211 259h5v1h-5zM232 259h2v1h-2zM236 259h2v1h-2zM239 259h2v1h-2zM242 259h3v1h-3zM250 259h2v1h-2zM260 259h2v1h-2zM264 259h2v1h-2zM274 259h2v1h-2zM278 259h2v1h-2zM285 259h2v1h-2zM288 259h2v1h-2zM292 259h2v1h-2zM304 259h2v1h-2zM309 259h5v1h-5zM316 259h6v1h-6zM323 259h2v1h-2zM327 259h2v1h-2zM330 259h2v1h-2zM333 259h3v1h-3zM337 259h6v1h-6zM344 259h2v1h-2zM347 259h3v1h-3zM351 259h2v1h-2zM354 259h3v1h-3zM114 260h2v1h-2zM120 260h2v1h-2zM136 260h3v1h-3zM141 260h3v1h-3zM145 260h2v1h-2zM150 260h3v1h-3zM155 260h2v1h-2zM159 260h2v1h-2zM169 260h3v1h-3zM173 260h2v1h-2zM176 260h2v1h-2zM180 260h2v1h-2zM185 260h2v1h-2zM197 260h2v1h-2zM201 260h2v1h-2zM208 260h2v1h-2zM211 260h2v1h-2zM232 260h2v1h-2zM236 260h2v1h-2zM239 260h3v1h-3zM243 260h2v1h-2zM248 260h3v1h-3zM260 260h2v1h-2zM274 260h2v1h-2zM282 260h5v1h-5zM288 260h2v1h-2zM292 260h2v1h-2zM304 260h2v1h-2zM309 260h2v1h-2zM313 260h2v1h-2zM316 260h6v1h-6zM327 260h2v1h-2zM330 260h3v1h-3zM334 260h2v1h-2zM337 260h6v1h-6zM344 260h3v1h-3zM348 260h2v1h-2zM351 260h3v1h-3zM355 260h2v1h-2zM116 261h2v1h-2zM120 261h2v1h-2zM135 261h2v1h-2zM141 261h2v1h-2zM145 261h2v1h-2zM149 261h2v1h-2zM155 261h2v1h-2zM159 261h2v1h-2zM169 261h2v1h-2zM173 261h2v1h-2zM176 261h2v1h-2zM180 261h2v1h-2zM185 261h2v1h-2zM197 261h2v1h-2zM201 261h2v1h-2zM208 261h2v1h-2zM211 261h2v1h-2zM232 261h2v1h-2zM236 261h2v1h-2zM239 261h2v1h-2zM243 261h2v1h-2zM247 261h2v1h-2zM260 261h2v1h-2zM274 261h2v1h-2zM281 261h2v1h-2zM285 261h2v1h-2zM288 261h2v1h-2zM292 261h2v1h-2zM304 261h2v1h-2zM309 261h2v1h-2zM313 261h2v1h-2zM327 261h2v1h-2zM330 261h2v1h-2zM334 261h2v1h-2zM344 261h2v1h-2zM348 261h2v1h-2zM351 261h2v1h-2zM355 261h2v1h-2zM113 262h2v1h-2zM117 262h2v1h-2zM120 262h2v1h-2zM134 262h2v1h-2zM141 262h2v1h-2zM145 262h2v1h-2zM148 262h2v1h-2zM155 262h2v1h-2zM159 262h2v1h-2zM169 262h2v1h-2zM173 262h2v1h-2zM176 262h2v1h-2zM180 262h2v1h-2zM185 262h2v1h-2zM197 262h2v1h-2zM201 262h2v1h-2zM204 262h2v1h-2zM208 262h2v1h-2zM211 262h2v1h-2zM233 262h5v1h-5zM239 262h2v1h-2zM243 262h2v1h-2zM246 262h2v1h-2zM260 262h2v1h-2zM274 262h2v1h-2zM281 262h2v1h-2zM285 262h2v1h-2zM288 262h2v1h-2zM292 262h2v1h-2zM304 262h2v1h-2zM309 262h2v1h-2zM313 262h2v1h-2zM323 262h2v1h-2zM327 262h2v1h-2zM330 262h2v1h-2zM334 262h2v1h-2zM344 262h2v1h-2zM348 262h2v1h-2zM351 262h2v1h-2zM355 262h2v1h-2zM114 263h4v1h-4zM120 263h2v1h-2zM127 263h6v1h-6zM134 263h6v1h-6zM142 263h4v1h-4zM148 263h6v1h-6zM156 263h4v1h-4zM162 263h6v1h-6zM170 263h4v1h-4zM177 263h4v1h-4zM183 263h6v1h-6zM190 263h6v1h-6zM197 263h2v1h-2zM201 263h2v1h-2zM205 263h4v1h-4zM211 263h6v1h-6zM218 263h6v1h-6zM225 263h6v1h-6zM236 263h2v1h-2zM240 263h4v1h-4zM246 263h6v1h-6zM253 263h6v1h-6zM260 263h2v1h-2zM267 263h6v1h-6zM274 263h2v1h-2zM282 263h5v1h-5zM289 263h5v1h-5zM302 263h6v1h-6zM310 263h4v1h-4zM324 263h4v1h-4zM331 263h4v1h-4zM345 263h4v1h-4zM352 263h4v1h-4zM127 264h6v1h-6zM162 264h6v1h-6zM190 264h6v1h-6zM218 264h6v1h-6zM225 264h6v1h-6zM236 264h2v1h-2zM253 264h6v1h-6zM267 264h6v1h-6zM233 265h4v1h-4zM18 275h4v1h-4zM31 275h6v1h-6zM17 276h2v1h-2zM21 276h2v1h-2zM31 276h2v1h-2zM21 277h2v1h-2zM31 277h5v1h-5zM18 278h4v1h-4zM31 278h2v1h-2zM35 278h2v1h-2zM45 278h382v1h-382zM21 279h2v1h-2zM35 279h2v1h-2zM45 279h1v1h-1zM72 279h1v1h-1zM181 279h1v1h-1zM290 279h1v1h-1zM399 279h1v1h-1zM426 279h1v1h-1zM21 280h2v1h-2zM35 280h2v1h-2zM45 280h1v1h-1zM72 280h1v1h-1zM181 280h1v1h-1zM290 280h1v1h-1zM399 280h1v1h-1zM426 280h1v1h-1zM17 281h2v1h-2zM21 281h2v1h-2zM26 281h2v1h-2zM31 281h2v1h-2zM35 281h2v1h-2zM45 281h1v1h-1zM72 281h1v1h-1zM181 281h1v1h-1zM290 281h1v1h-1zM399 281h1v1h-1zM426 281h1v1h-1zM18 282h4v1h-4zM25 282h4v1h-4zM32 282h4v1h-4zM45 282h1v1h-1zM72 282h1v1h-1zM181 282h1v1h-1zM290 282h1v1h-1zM399 282h1v1h-1zM426 282h1v1h-1zM26 283h2v1h-2zM45 283h1v1h-1zM426 283h1v1h-1zM45 284h1v1h-1zM426 284h1v1h-1zM45 285h1v1h-1zM426 285h1v1h-1zM45 286h1v1h-1zM426 286h1v1h-1zM45 287h1v1h-1zM426 287h1v1h-1zM45 288h1v1h-1zM426 288h1v1h-1zM45 289h1v1h-1zM426 289h1v1h-1zM45 290h1v1h-1zM426 290h1v1h-1zM45 291h1v1h-1zM426 291h1v1h-1zM45 292h1v1h-1zM426 292h1v1h-1zM45 293h1v1h-1zM426 293h1v1h-1zM45 294h1v1h-1zM426 294h1v1h-1zM45 295h1v1h-1zM426 295h1v1h-1zM45 296h1v1h-1zM426 296h1v1h-1zM45 297h1v1h-1zM426 297h1v1h-1zM32 298h4v1h-4zM45 298h1v1h-1zM426 298h1v1h-1zM31 299h2v1h-2zM35 299h2v1h-2zM45 299h1v1h-1zM426 299h1v1h-1zM35 300h2v1h-2zM45 300h1v1h-1zM426 300h1v1h-1zM32 301h4v1h-4zM45 301h5v1h-5zM422 301h5v1h-5zM35 302h2v1h-2zM45 302h1v1h-1zM426 302h1v1h-1zM35 303h2v1h-2zM45 303h1v1h-1zM426 303h1v1h-1zM31 304h2v1h-2zM35 304h2v1h-2zM45 304h1v1h-1zM426 304h1v1h-1zM32 305h4v1h-4zM45 305h1v1h-1zM426 305h1v1h-1zM45 306h1v1h-1zM426 306h1v1h-1zM45 307h1v1h-1zM426 307h1v1h-1zM45 308h1v1h-1zM426 308h1v1h-1zM45 309h1v1h-1zM426 309h1v1h-1zM45 310h1v1h-1zM426 310h1v1h-1zM45 311h1v1h-1zM426 311h1v1h-1zM45 312h1v1h-1zM426 312h1v1h-1zM45 313h1v1h-1zM426 313h1v1h-1zM45 314h1v1h-1zM426 314h1v1h-1zM45 315h1v1h-1zM426 315h1v1h-1zM45 316h1v1h-1zM426 316h1v1h-1zM45 317h1v1h-1zM426 317h1v1h-1zM45 318h1v1h-1zM426 318h1v1h-1zM45 319h1v1h-1zM426 319h1v1h-1zM45 320h1v1h-1zM426 320h1v1h-1zM18 321h4v1h-4zM31 321h6v1h-6zM45 321h1v1h-1zM426 321h1v1h-1zM17 322h2v1h-2zM21 322h2v1h-2zM31 322h2v1h-2zM45 322h1v1h-1zM426 322h1v1h-1zM17 323h2v1h-2zM21 323h2v1h-2zM31 323h5v1h-5zM45 323h1v1h-1zM426 323h1v1h-1zM21 324h2v1h-2zM31 324h2v1h-2zM35 324h2v1h-2zM45 324h5v1h-5zM422 324h5v1h-5zM19 325h3v1h-3zM35 325h2v1h-2zM45 325h1v1h-1zM426 325h1v1h-1zM18 326h2v1h-2zM35 326h2v1h-2zM45 326h1v1h-1zM426 326h1v1h-1zM17 327h2v1h-2zM26 327h2v1h-2zM31 327h2v1h-2zM35 327h2v1h-2zM45 327h1v1h-1zM426 327h1v1h-1zM17 328h6v1h-6zM25 328h4v1h-4zM32 328h4v1h-4zM45 328h1v1h-1zM426 328h1v1h-1zM26 329h2v1h-2zM45 329h1v1h-1zM426 329h1v1h-1zM45 330h1v1h-1zM426 330h1v1h-1zM45 331h1v1h-1zM426 331h1v1h-1zM45 332h1v1h-1zM426 332h1v1h-1zM45 333h1v1h-1zM426 333h1v1h-1zM45 334h1v1h-1zM426 334h1v1h-1zM45 335h1v1h-1zM426 335h1v1h-1zM45 336h1v1h-1zM426 336h1v1h-1zM45 337h1v1h-1zM426 337h1v1h-1zM45 338h1v1h-1zM426 338h1v1h-1zM45 339h1v1h-1zM426 339h1v1h-1zM45 340h1v1h-1zM426 340h1v1h-1zM45 341h1v1h-1zM426 341h1v1h-1zM45 342h1v1h-1zM426 342h1v1h-1zM45 343h1v1h-1zM426 343h1v1h-1zM32 344h4v1h-4zM45 344h1v1h-1zM426 344h1v1h-1zM31 345h2v1h-2zM35 345h2v1h-2zM45 345h1v1h-1zM426 345h1v1h-1zM31 346h2v1h-2zM35 346h2v1h-2zM45 346h1v1h-1zM426 346h1v1h-1zM35 347h2v1h-2zM45 347h5v1h-5zM422 347h5v1h-5zM33 348h3v1h-3zM45 348h1v1h-1zM426 348h1v1h-1zM32 349h2v1h-2zM45 349h1v1h-1zM426 349h1v1h-1zM31 350h2v1h-2zM45 350h1v1h-1zM426 350h1v1h-1zM31 351h6v1h-6zM45 351h1v1h-1zM426 351h1v1h-1zM45 352h1v1h-1zM426 352h1v1h-1zM45 353h1v1h-1zM426 353h1v1h-1zM45 354h1v1h-1zM426 354h1v1h-1zM45 355h1v1h-1zM426 355h1v1h-1zM45 356h1v1h-1zM426 356h1v1h-1zM45 357h1v1h-1zM426 357h1v1h-1zM45 358h1v1h-1zM426 358h1v1h-1zM45 359h1v1h-1zM426 359h1v1h-1zM45 360h1v1h-1zM426 360h1v1h-1zM45 361h1v1h-1zM426 361h1v1h-1zM45 362h1v1h-1zM426 362h1v1h-1zM45 363h1v1h-1zM426 363h1v1h-1zM45 364h1v1h-1zM426 364h1v1h-1zM45 365h1v1h-1zM426 365h1v1h-1zM19 366h2v1h-2zM31 366h6v1h-6zM45 366h1v1h-1zM426 366h1v1h-1zM18 367h3v1h-3zM31 367h2v1h-2zM45 367h1v1h-1zM426 367h1v1h-1zM17 368h1v1h-1zM19 368h2v1h-2zM31 368h5v1h-5zM45 368h1v1h-1zM426 368h1v1h-1zM19 369h2v1h-2zM31 369h2v1h-2zM35 369h2v1h-2zM45 369h5v1h-5zM422 369h5v1h-5zM19 370h2v1h-2zM35 370h2v1h-2zM45 370h1v1h-1zM426 370h1v1h-1zM19 371h2v1h-2zM35 371h2v1h-2zM45 371h1v1h-1zM426 371h1v1h-1zM19 372h2v1h-2zM26 372h2v1h-2zM31 372h2v1h-2zM35 372h2v1h-2zM45 372h1v1h-1zM426 372h1v1h-1zM17 373h6v1h-6zM25 373h4v1h-4zM32 373h4v1h-4zM45 373h1v1h-1zM426 373h1v1h-1zM26 374h2v1h-2zM45 374h1v1h-1zM426 374h1v1h-1zM45 375h1v1h-1zM426 375h1v1h-1zM45 376h1v1h-1zM426 376h1v1h-1zM45 377h1v1h-1zM426 377h1v1h-1zM45 378h1v1h-1zM426 378h1v1h-1zM45 379h1v1h-1zM426 379h1v1h-1zM45 380h1v1h-1zM426 380h1v1h-1zM45 381h1v1h-1zM426 381h1v1h-1zM45 382h1v1h-1zM426 382h1v1h-1zM45 383h1v1h-1zM426 383h1v1h-1zM45 384h1v1h-1zM426 384h1v1h-1zM45 385h1v1h-1zM426 385h1v1h-1zM45 386h1v1h-1zM426 386h1v1h-1zM45 387h1v1h-1zM426 387h1v1h-1zM45 388h1v1h-1zM426 388h1v1h-1zM33 389h2v1h-2zM45 389h1v1h-1zM426 389h1v1h-1zM32 390h3v1h-3zM45 390h1v1h-1zM426 390h1v1h-1zM31 391h1v1h-1zM33 391h2v1h-2zM45 391h1v1h-1zM426 391h1v1h-1zM33 392h2v1h-2zM45 392h5v1h-5zM422 392h5v1h-5zM33 393h2v1h-2zM45 393h1v1h-1zM426 393h1v1h-1zM33 394h2v1h-2zM45 394h1v1h-1zM426 394h1v1h-1zM33 395h2v1h-2zM45 395h1v1h-1zM426 395h1v1h-1zM31 396h6v1h-6zM45 396h1v1h-1zM426 396h1v1h-1zM45 397h1v1h-1zM426 397h1v1h-1zM45 398h1v1h-1zM426 398h1v1h-1zM45 399h1v1h-1zM426 399h1v1h-1zM45 400h1v1h-1zM426 400h1v1h-1zM45 401h1v1h-1zM426 401h1v1h-1zM45 402h1v1h-1zM426 402h1v1h-1zM45 403h1v1h-1zM426 403h1v1h-1zM45 404h1v1h-1zM426 404h1v1h-1zM45 405h1v1h-1zM426 405h1v1h-1zM45 406h1v1h-1zM426 406h1v1h-1zM45 407h1v1h-1zM426 407h1v1h-1zM45 408h1v1h-1zM426 408h1v1h-1zM45 409h1v1h-1zM426 409h1v1h-1zM45 410h1v1h-1zM426 410h1v1h-1zM45 411h1v1h-1zM426 411h1v1h-1zM18 412h4v1h-4zM31 412h6v1h-6zM45 412h1v1h-1zM426 412h1v1h-1zM17 413h2v1h-2zM21 413h2v1h-2zM31 413h2v1h-2zM45 413h1v1h-1zM426 413h1v1h-1zM17 414h2v1h-2zM21 414h2v1h-2zM31 414h5v1h-5zM45 414h1v1h-1zM426 414h1v1h-1zM17 415h2v1h-2zM20 415h3v1h-3zM31 415h2v1h-2zM35 415h2v1h-2zM45 415h5v1h-5zM422 415h5v1h-5zM17 416h3v1h-3zM21 416h2v1h-2zM35 416h2v1h-2zM45 416h1v1h-1zM426 416h1v1h-1zM17 417h2v1h-2zM21 417h2v1h-2zM35 417h2v1h-2zM45 417h1v1h-1zM426 417h1v1h-1zM17 418h2v1h-2zM21 418h2v1h-2zM26 418h2v1h-2zM31 418h2v1h-2zM35 418h2v1h-2zM45 418h1v1h-1zM426 418h1v1h-1zM18 419h4v1h-4zM25 419h4v1h-4zM32 419h4v1h-4zM45 419h1v1h-1zM426 419h1v1h-1zM26 420h2v1h-2zM45 420h1v1h-1zM426 420h1v1h-1zM45 421h1v1h-1zM426 421h1v1h-1zM45 422h1v1h-1zM426 422h1v1h-1zM45 423h1v1h-1zM426 423h1v1h-1zM45 424h1v1h-1zM426 424h1v1h-1zM45 425h1v1h-1zM426 425h1v1h-1zM45 426h1v1h-1zM426 426h1v1h-1zM45 427h1v1h-1zM426 427h1v1h-1zM45 428h1v1h-1zM426 428h1v1h-1zM45 429h1v1h-1zM426 429h1v1h-1zM45 430h1v1h-1zM426 430h1v1h-1zM45 431h1v1h-1zM426 431h1v1h-1zM45 432h1v1h-1zM426 432h1v1h-1zM45 433h1v1h-1zM426 433h1v1h-1zM45 434h1v1h-1zM72 434h1v1h-1zM181 434h1v1h-1zM290 434h1v1h-1zM399 434h1v1h-1zM426 434h1v1h-1zM32 435h4v1h-4zM45 435h1v1h-1zM72 435h1v1h-1zM181 435h1v1h-1zM290 435h1v1h-1zM399 435h1v1h-1zM426 435h1v1h-1zM31 436h2v1h-2zM35 436h2v1h-2zM45 436h1v1h-1zM72 436h1v1h-1zM181 436h1v1h-1zM290 436h1v1h-1zM399 436h1v1h-1zM426 436h1v1h-1zM31 437h2v1h-2zM35 437h2v1h-2zM45 437h1v1h-1zM72 437h1v1h-1zM181 437h1v1h-1zM290 437h1v1h-1zM399 437h1v1h-1zM426 437h1v1h-1zM31 438h2v1h-2zM34 438h3v1h-3zM45 438h382v1h-382zM31 439h3v1h-3zM35 439h2v1h-2zM31 440h2v1h-2zM35 440h2v1h-2zM31 441h2v1h-2zM35 441h2v1h-2zM32 442h4v1h-4zM69 448h2v1h-2zM73 448h4v1h-4zM80 448h4v1h-4zM175 448h4v1h-4zM182 448h4v1h-4zM189 448h4v1h-4zM284 448h4v1h-4zM291 448h4v1h-4zM298 448h4v1h-4zM391 448h2v1h-2zM397 448h4v1h-4zM404 448h4v1h-4zM411 448h4v1h-4zM68 449h3v1h-3zM72 449h2v1h-2zM76 449h2v1h-2zM79 449h2v1h-2zM83 449h2v1h-2zM174 449h2v1h-2zM178 449h2v1h-2zM181 449h2v1h-2zM185 449h2v1h-2zM188 449h2v1h-2zM192 449h2v1h-2zM283 449h2v1h-2zM287 449h2v1h-2zM290 449h2v1h-2zM294 449h2v1h-2zM297 449h2v1h-2zM301 449h2v1h-2zM390 449h3v1h-3zM396 449h2v1h-2zM400 449h2v1h-2zM403 449h2v1h-2zM407 449h2v1h-2zM410 449h2v1h-2zM414 449h2v1h-2zM67 450h4v1h-4zM72 450h2v1h-2zM76 450h2v1h-2zM79 450h2v1h-2zM83 450h2v1h-2zM174 450h2v1h-2zM181 450h2v1h-2zM185 450h2v1h-2zM188 450h2v1h-2zM192 450h2v1h-2zM283 450h2v1h-2zM287 450h2v1h-2zM290 450h2v1h-2zM294 450h2v1h-2zM297 450h2v1h-2zM301 450h2v1h-2zM389 450h1v1h-1zM391 450h2v1h-2zM396 450h2v1h-2zM400 450h2v1h-2zM403 450h2v1h-2zM407 450h2v1h-2zM410 450h2v1h-2zM414 450h2v1h-2zM66 451h2v1h-2zM69 451h2v1h-2zM72 451h2v1h-2zM75 451h3v1h-3zM79 451h2v1h-2zM82 451h3v1h-3zM174 451h5v1h-5zM181 451h2v1h-2zM184 451h3v1h-3zM188 451h2v1h-2zM191 451h3v1h-3zM284 451h4v1h-4zM290 451h2v1h-2zM293 451h3v1h-3zM297 451h2v1h-2zM300 451h3v1h-3zM391 451h2v1h-2zM396 451h2v1h-2zM399 451h3v1h-3zM403 451h2v1h-2zM406 451h3v1h-3zM410 451h2v1h-2zM413 451h3v1h-3zM65 452h2v1h-2zM69 452h2v1h-2zM72 452h3v1h-3zM76 452h2v1h-2zM79 452h3v1h-3zM83 452h2v1h-2zM174 452h2v1h-2zM178 452h2v1h-2zM181 452h3v1h-3zM185 452h2v1h-2zM188 452h3v1h-3zM192 452h2v1h-2zM283 452h2v1h-2zM287 452h2v1h-2zM290 452h3v1h-3zM294 452h2v1h-2zM297 452h3v1h-3zM301 452h2v1h-2zM391 452h2v1h-2zM396 452h3v1h-3zM400 452h2v1h-2zM403 452h3v1h-3zM407 452h2v1h-2zM410 452h3v1h-3zM414 452h2v1h-2zM65 453h6v1h-6zM72 453h2v1h-2zM76 453h2v1h-2zM79 453h2v1h-2zM83 453h2v1h-2zM174 453h2v1h-2zM178 453h2v1h-2zM181 453h2v1h-2zM185 453h2v1h-2zM188 453h2v1h-2zM192 453h2v1h-2zM283 453h2v1h-2zM287 453h2v1h-2zM290 453h2v1h-2zM294 453h2v1h-2zM297 453h2v1h-2zM301 453h2v1h-2zM391 453h2v1h-2zM396 453h2v1h-2zM400 453h2v1h-2zM403 453h2v1h-2zM407 453h2v1h-2zM410 453h2v1h-2zM414 453h2v1h-2zM69 454h2v1h-2zM72 454h2v1h-2zM76 454h2v1h-2zM79 454h2v1h-2zM83 454h2v1h-2zM174 454h2v1h-2zM178 454h2v1h-2zM181 454h2v1h-2zM185 454h2v1h-2zM188 454h2v1h-2zM192 454h2v1h-2zM283 454h2v1h-2zM287 454h2v1h-2zM290 454h2v1h-2zM294 454h2v1h-2zM297 454h2v1h-2zM301 454h2v1h-2zM391 454h2v1h-2zM396 454h2v1h-2zM400 454h2v1h-2zM403 454h2v1h-2zM407 454h2v1h-2zM410 454h2v1h-2zM414 454h2v1h-2zM69 455h2v1h-2zM73 455h4v1h-4zM80 455h4v1h-4zM175 455h4v1h-4zM182 455h4v1h-4zM189 455h4v1h-4zM284 455h4v1h-4zM291 455h4v1h-4zM298 455h4v1h-4zM389 455h6v1h-6zM397 455h4v1h-4zM404 455h4v1h-4zM411 455h4v1h-4zM228 469h5v1h-5zM235 469h2v1h-2zM238 469h2v1h-2zM228 470h2v1h-2zM232 470h2v1h-2zM235 470h6v1h-6zM228 471h2v1h-2zM232 471h2v1h-2zM235 471h6v1h-6zM228 472h2v1h-2zM232 472h2v1h-2zM235 472h2v1h-2zM239 472h2v1h-2zM228 473h2v1h-2zM232 473h2v1h-2zM235 473h2v1h-2zM239 473h2v1h-2zM228 474h2v1h-2zM232 474h2v1h-2zM235 474h2v1h-2zM239 474h2v1h-2z"/>
</svg>
</body></html>
